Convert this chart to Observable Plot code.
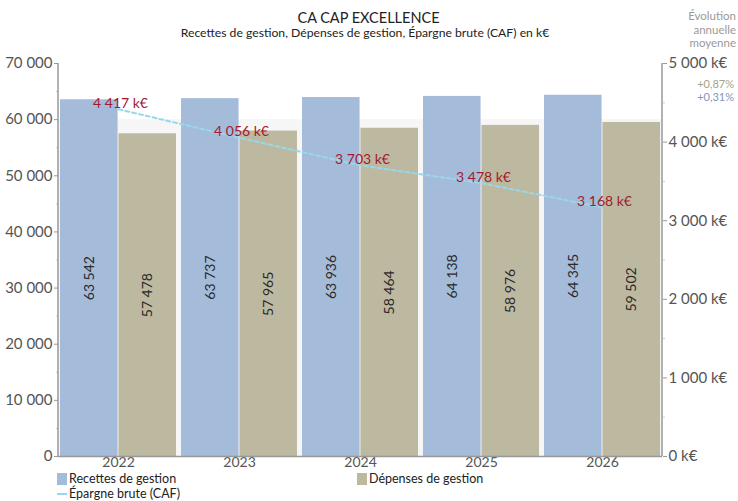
<!DOCTYPE html>
<html>
<head>
<meta charset="utf-8">
<script src="https://cdn.jsdelivr.net/npm/d3@7"></script>
<script src="https://cdn.jsdelivr.net/npm/@observablehq/plot@0.6"></script>
<style>
  html, body { margin: 0; padding: 0; background: #fff; }
  #wrap { position: relative; width: 738px; height: 501px; font-family: Lato, "Noto Sans", sans-serif; overflow: hidden; }
  #wrap svg { position: absolute; left: 0; top: 0; }
  .abs { position: absolute; white-space: nowrap; }
  .lg { position: absolute; white-space: nowrap; font-size: 12.5px; line-height: 14px; height: 14px; color: #222; }
  .sw { position: absolute; left: 0; top: 1px; width: 10px; height: 12px; }
  .lg span.t { position: absolute; left: 12px; top: 0; }
</style>
</head>
<body>
<div id="wrap">
  <div class="abs" style="left:0;width:737px;top:9px;text-align:center;font-size:14.5px;color:#222;">CA CAP EXCELLENCE</div>
  <div class="abs" style="left:0;width:730px;top:25px;text-align:center;font-size:12.2px;color:#222;">Recettes de gestion, Dépenses de gestion, Épargne brute (CAF) en k€</div>
  <div class="abs" style="right:2px;top:9px;text-align:right;font-size:11.5px;line-height:13.5px;color:#9a9a9a;">Évolution<br>annuelle<br>moyenne</div>
  <div id="evo" class="abs" style="right:4px;top:77px;text-align:right;font-size:11px;line-height:13px;"></div>
  <div id="legend"></div>
</div>
<script>
const years = ["2022", "2023", "2024", "2025", "2026"];
const recettes = [63542, 63737, 63936, 64138, 64345];
const depenses = [57478, 57965, 58464, 58976, 59502];
const caf = [4417, 4056, 3703, 3478, 3168];
const leftTicks = [0, 10000, 20000, 30000, 40000, 50000, 60000, 70000];
const rightTicks = [0, 1000, 2000, 3000, 4000, 5000];
const evolution = ["+0,87%", "+0,31%"];
const seriesNames = ["Recettes de gestion", "Dépenses de gestion", "Épargne brute (CAF)"];

const colBlue = "#a4bbda";
const colBeige = "#bdb8a0";
const colLine = "#98d8ea";
const colRed = "#a31a2e";

const locale = d3.formatLocale({decimal: ",", thousands: " ", grouping: [3], currency: ["", ""]});
const fmt = locale.format(",d");

const leftMax = 70000, rightMax = 5000, k = leftMax / rightMax;

const rows = years.map((year, i) => ({year, rec: recettes[i], dep: depenses[i], caf: caf[i]}));

const W = 738, H = 501;
const mL = 58, mR = 76, mT = 63, mB = 45;
const padInner = 0.04;
const innerW = W - mL - mR;
const step = innerW / (years.length - padInner);
const bw = step * (1 - padInner);
const half = bw / 2;

const chart = Plot.plot({
  width: W, height: H,
  marginLeft: mL, marginRight: mR, marginTop: mT, marginBottom: mB,
  style: {fontFamily: "Lato, 'Noto Sans', sans-serif", background: "transparent"},
  x: {type: "band", domain: years, paddingInner: padInner, paddingOuter: 0, axis: null},
  y: {domain: [0, leftMax], axis: null},
  marks: [
    Plot.rectY([60000], {y: d => d, fill: "#f6f6f6"}),
    Plot.barY(rows, {x: "year", y: "rec", fill: colBlue, insetRight: half}),
    Plot.barY(rows, {x: "year", y: "dep", fill: colBeige, insetLeft: half}),
    Plot.text(rows, {x: "year", y: d => d.rec / 2, text: d => fmt(d.rec), rotate: -90, dx: -half / 2, fontSize: 14, fill: "#2a2a2a"}),
    Plot.text(rows, {x: "year", y: d => d.dep / 2, text: d => fmt(d.dep), rotate: -90, dx: half / 2, fontSize: 14, fill: "#2a2a2a"}),
    Plot.line(rows, {x: "year", y: d => d.caf * k, stroke: colLine, strokeWidth: 2, strokeDasharray: "4,3"}),
    Plot.text(rows, {x: "year", y: d => d.caf * k, text: d => fmt(d.caf) + " k€", dy: -6, dx: 2, fontSize: 14, fill: colRed}),
    Plot.axisY(leftTicks, {anchor: "left", label: null, tickFormat: fmt, tickSize: 4, tickPadding: 2, fontSize: 15, color: "#555", stroke: "#999"}),
    Plot.axisY(leftTicks.slice(0, -1).map(v => v + 5000), {anchor: "left", label: null, tickFormat: () => "", tickSize: 2, stroke: "#ccc"}),
    Plot.axisY(rightTicks.map(v => v * k), {anchor: "right", label: null, tickFormat: d => fmt(d / k) + " k€", tickSize: 4, tickPadding: 2, fontSize: 15, color: "#555", stroke: "#999"}),
    Plot.axisY(rightTicks.slice(0, -1).map(v => (v + 500) * k), {anchor: "right", label: null, tickFormat: () => "", tickSize: 2, stroke: "#ccc"}),
    Plot.axisX(years, {anchor: "bottom", label: null, tickSize: 0, tickPadding: 1, fontSize: 14, color: "#555"}),
    Plot.ruleY([0], {stroke: "#999", strokeWidth: 1.5})
  ]
});

document.getElementById("wrap").prepend(chart);

// axis lines from the scales' ranges
const sx = chart.scale("x"), sy = chart.scale("y");
const [x0, x1] = [d3.min(sx.range), d3.max(sx.range)];
const [yb, yt] = [d3.max(sy.range), d3.min(sy.range)];
const svg = d3.select(chart);
svg.append("line").attr("x1", x0).attr("x2", x0).attr("y1", yt).attr("y2", yb).attr("stroke", "#999").attr("stroke-width", 1.5);
svg.append("line").attr("x1", x1).attr("x2", x1).attr("y1", yt).attr("y2", yb).attr("stroke", "#999").attr("stroke-width", 1.5);

// evolution annotations
const evo = document.getElementById("evo");
evo.innerHTML = `<div style="color:#a8a388">${evolution[0]}</div><div style="color:#8196bd">${evolution[1]}</div>`;

// legend
const lg = document.getElementById("legend");
lg.innerHTML = `
  <div class="lg" style="left:57px;top:472px;"><span class="sw" style="background:${colBlue}"></span><span class="t">${seriesNames[0]}</span></div>
  <div class="lg" style="left:357px;top:472px;"><span class="sw" style="background:${colBeige}"></span><span class="t">${seriesNames[1]}</span></div>
  <div class="lg" style="left:57px;top:487px;"><span class="sw" style="height:0;top:6px;border-top:2px dashed ${colLine}"></span><span class="t">${seriesNames[2]}</span></div>`;
</script>
</body>
</html>
